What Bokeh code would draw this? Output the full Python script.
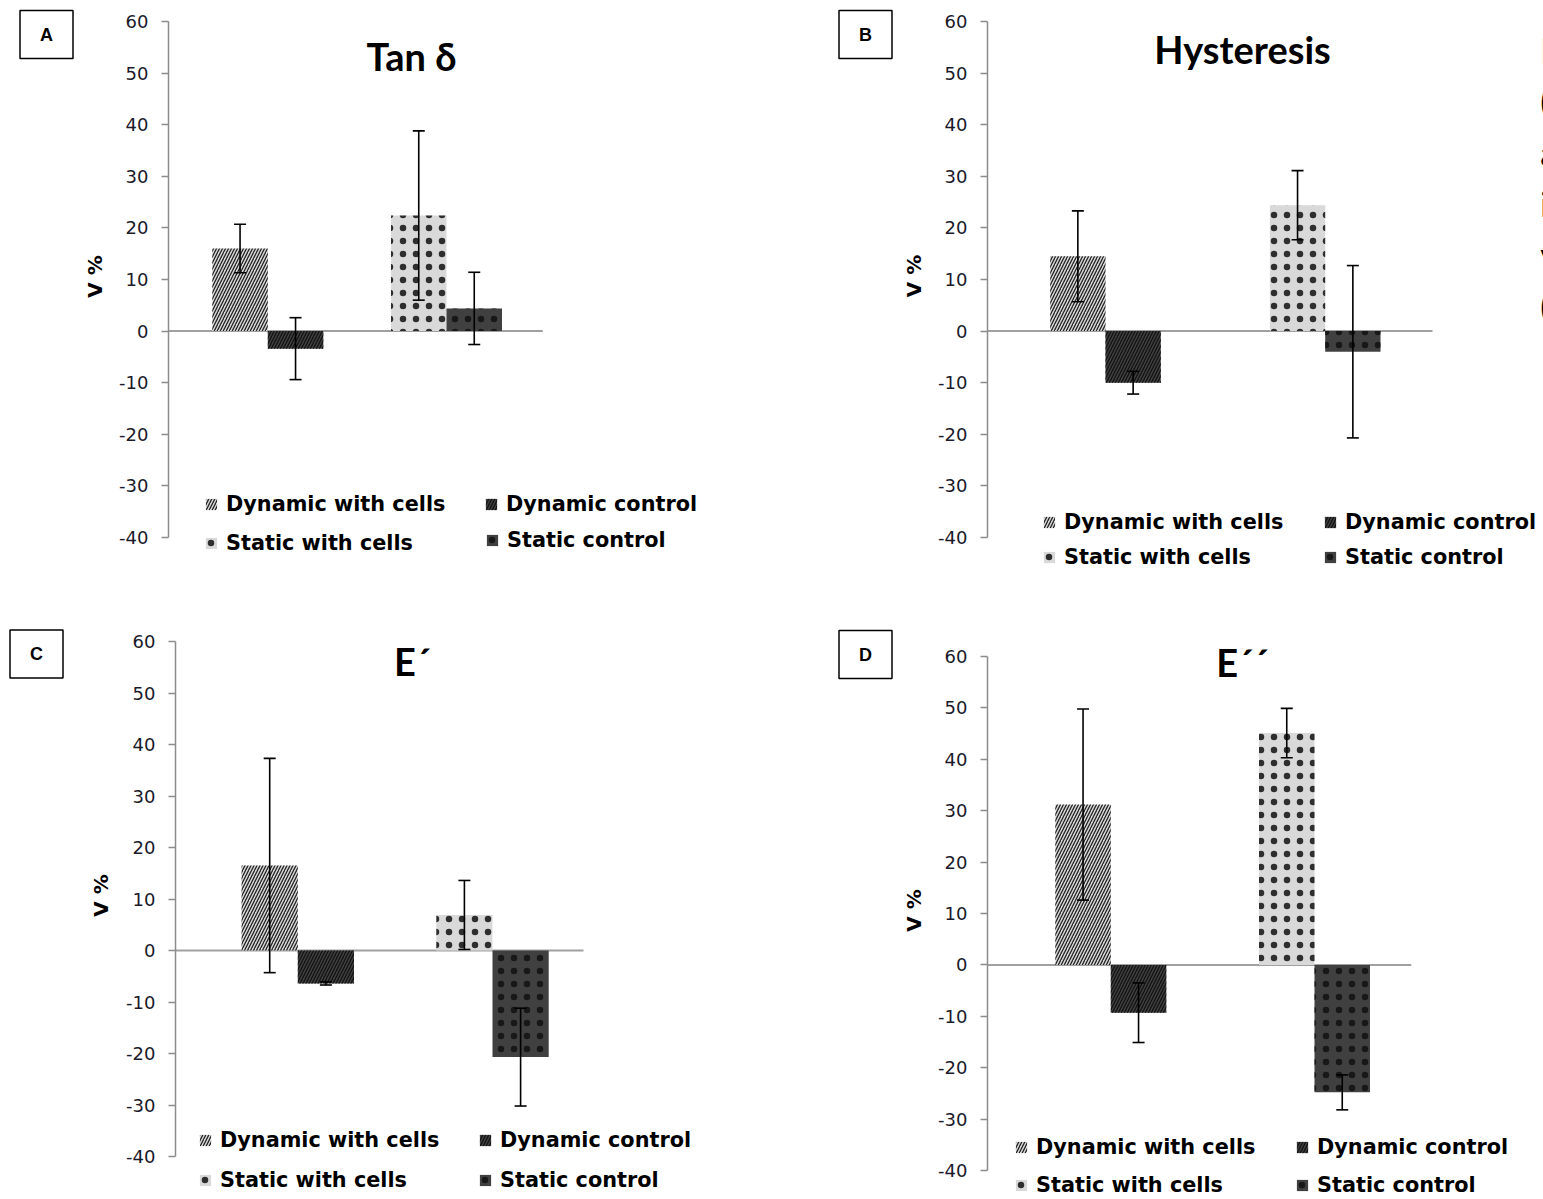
import math
from bokeh.plotting import figure
from bokeh.models import (Range1d, Whisker, TeeHead, ColumnDataSource, Label,
                          Legend, LegendItem, FixedTicker)
from bokeh.layouts import row, column
from bokeh.core.properties import value
from bokeh.embed import file_html
from bokeh.resources import INLINE

# ---------------- data ----------------
series = ["Dynamic with cells", "Dynamic control", "Static with cells", "Static control"]
series_group = [1, 1, 2, 2]          # 1 = dynamic pair, 2 = static pair
series_side = [-1, 1, -1, 1]         # left / right bar within the pair

tan_delta_mean = [16.0, -3.4, 22.4, 4.4]
tan_delta_err = [4.7, 6.0, 16.4, 7.0]

hysteresis_mean = [14.5, -10.0, 24.4, -4.0]
hysteresis_err = [8.8, 2.2, 6.7, 16.7]

e_storage_mean = [16.5, -6.4, 6.9, -20.7]
e_storage_err = [20.8, 0.3, 6.7, 9.5]

e_loss_mean = [31.2, -9.3, 45.1, -24.8]
e_loss_err = [18.6, 5.8, 4.8, 3.4]

y_ticks = [-40, -30, -20, -10, 0, 10, 20, 30, 40, 50, 60]
y_tick_labels = [str(t) for t in y_ticks]
y_label = "V %"
panel_titles = ["Tan δ", "Hysteresis", "E´", "E´´"]
panel_letters = ["A", "B", "C", "D"]

# ---------------- styles ----------------
LIGHT = "#d9d9d9"
DARK = "#404040"
styles = [
    dict(fill_color=LIGHT, hatch_pattern="right_diagonal_line", hatch_color="#222222",
         hatch_scale=6, hatch_weight=1.3),
    dict(fill_color=DARK, hatch_pattern="right_diagonal_line", hatch_color="#111111",
         hatch_scale=6, hatch_weight=1.3),
    dict(fill_color=LIGHT, hatch_pattern="dot", hatch_color="#111111",
         hatch_scale=13, hatch_weight=0.6, hatch_alpha=0.85),
    dict(fill_color=DARK, hatch_pattern="dot", hatch_color="#111111",
         hatch_scale=13, hatch_weight=0.6, hatch_alpha=0.85),
]

TICK_FONT = "DejaVu Sans"
LEG_FONT = "DejaVu Sans"
TITLE_FONT = "Lato"
LEG_SIZE = "20.8px"
LEG_HALF = 13  # offset from row centre to legend bottom


def margin_fig(letter, width, height, box_xy, label_xy):
    """Left margin of a panel: panel letter in a box and the y-axis title."""
    p = figure(width=width, height=height, x_range=Range1d(0, 1), y_range=Range1d(0, 1),
               output_backend="svg", toolbar_location=None,
               x_axis_location=None, y_axis_location=None,
               min_border_left=0, min_border_right=0, min_border_top=0, min_border_bottom=0)
    p.grid.visible = False
    p.outline_line_color = None
    p.add_layout(Label(x=box_xy[0], y=height - box_xy[1], x_units="screen", y_units="screen",
                       text=letter, text_font="Liberation Sans", text_font_style="bold",
                       text_font_size="18px", text_align="center", text_baseline="middle",
                       text_color="black", border_line_color="black", border_line_width=1.5,
                       background_fill_color="white",
                       padding=dict(left=20, right=20, top=14, bottom=14)))
    p.add_layout(Label(x=label_xy[0], y=height - label_xy[1], x_units="screen",
                       y_units="screen", text=y_label, angle=math.pi / 2,
                       text_font=LEG_FONT, text_font_style="bold", text_font_size="20px",
                       text_align="center", text_baseline="middle", text_color="black"))
    return p


def make_panel(title, means, errs, x0, y0, width, height, geo, title_xy, legend_xy,
               extra=None):
    # geo: page pixels of y-axis, end of zero line, two group centres, bar width,
    #      pixel rows of the 60 and -40 ticks
    axis_px, zero_end_px, c1_px, c2_px, barw_px, py_top, py_bot = geo
    left = axis_px - x0
    u = c2_px - c1_px
    xs0 = 1 - (c1_px - axis_px) / u
    xe = xs0 + (x0 + width - axis_px) / u
    zero_end = xs0 + (zero_end_px - axis_px) / u
    bar_w = barw_px / u
    ppu = (py_bot - py_top) / (y_ticks[-1] - y_ticks[0])
    ys = y_ticks[0] - (y0 + height - py_bot) / ppu
    ye = y_ticks[-1] + (py_top - y0) / ppu

    p = figure(width=width, height=height, x_range=Range1d(xs0, xe), y_range=Range1d(ys, ye),
               output_backend="svg", toolbar_location=None, x_axis_location=None,
               min_border_left=left, min_border_right=0,
               min_border_top=0, min_border_bottom=0)
    p.grid.visible = False
    p.outline_line_color = None

    ax = p.yaxis[0]
    ax.ticker = FixedTicker(ticks=y_ticks)
    ax.major_label_overrides = {t: s for t, s in zip(y_ticks, y_tick_labels)}
    ax.bounds = (y_ticks[0], y_ticks[-1])
    ax.axis_line_color = "#8c8c8c"
    ax.axis_line_width = 1.5
    ax.major_tick_line_color = "#8c8c8c"
    ax.major_tick_line_width = 1.5
    ax.major_tick_out = 7
    ax.major_tick_in = 0
    ax.minor_tick_line_color = None
    ax.major_label_text_font = TICK_FONT
    ax.major_label_text_font_size = "18px"
    ax.major_label_text_color = "#1a1a2a"
    ax.major_label_standoff = 13

    # category axis line at zero
    p.segment(x0=[xs0], y0=[0], x1=[zero_end], y1=[0], line_color="#a0a0a0", line_width=2)

    xs = [g + s * bar_w / 2 for g, s in zip(series_group, series_side)]
    renderers = []
    for i in range(4):
        src = ColumnDataSource(dict(x=[xs[i]], top=[means[i]]))
        r = p.vbar(x="x", top="top", bottom=0, width=bar_w, source=src,
                   line_color=None, **styles[i])
        renderers.append(r)

    wsrc = ColumnDataSource(dict(base=xs,
                                 upper=[m + e for m, e in zip(means, errs)],
                                 lower=[m - e for m, e in zip(means, errs)]))
    p.add_layout(Whisker(base="base", upper="upper", lower="lower", source=wsrc,
                         line_color="black", line_width=1.6, level="overlay",
                         upper_head=TeeHead(size=12, line_width=1.6, line_color="black"),
                         lower_head=TeeHead(size=12, line_width=1.6, line_color="black")))

    bottom_px = y0 + height
    p.add_layout(Label(x=title_xy[0] - axis_px, y=bottom_px - title_xy[1],
                       x_units="screen", y_units="screen",
                       text=title, text_font=TITLE_FONT, text_font_style="bold",
                       text_font_size="38px", text_align="center", text_baseline="middle",
                       text_color="black"))

    for i, (lx, ly) in enumerate(legend_xy):
        lg = Legend(items=[LegendItem(label=value(series[i]), renderers=[renderers[i]])],
                    location=(lx - axis_px, bottom_px - (ly + LEG_HALF)),
                    orientation="vertical", border_line_color=None,
                    background_fill_alpha=0, padding=0, margin=0, spacing=0,
                    glyph_width=14, glyph_height=14, label_standoff=8,
                    label_text_font=LEG_FONT, label_text_font_style="bold",
                    label_text_font_size=LEG_SIZE, label_text_color="black")
        p.add_layout(lg)

    if extra:
        for (txt, ex, ey) in extra:
            p.add_layout(Label(x=ex - axis_px, y=bottom_px - ey, x_units="screen",
                               y_units="screen", text=txt, text_font=TITLE_FONT,
                               text_font_style="bold", text_font_size="34px",
                               text_align="left", text_baseline="middle",
                               text_color="black"))
    return p


TOP_H, BOT_H = 600, 599

mA = margin_fig(panel_letters[0], 110, TOP_H, (46, 34), (94, 276))
pA = make_panel(panel_titles[0], tan_delta_mean, tan_delta_err, 110, 0, 661, TOP_H,
                (168, 542.3, 267.3, 446.0, 55.5, 21, 537), (411, 55.5),
                [(204, 503), (484, 503), (204, 542), (485, 539)])

mB = margin_fig(panel_letters[1], 158, TOP_H, (94, 34), (142, 275.5))
pB = make_panel(panel_titles[1], hysteresis_mean, hysteresis_err, 929, 0, 614, TOP_H,
                (987, 1432, 1105, 1324.7, 55.3, 21, 537), (1242, 48.5),
                [(1042, 521), (1323, 521), (1042, 556), (1323, 556)],
                extra=[("I", 1540, 50), ("(", 1540, 100), ("a", 1540, 152),
                       ("i", 1540, 203), ("v", 1540, 254), ("(", 1540, 305)])

mC = margin_fig(panel_letters[2], 117, BOT_H, (36, 53.5), (100, 295))
pC = make_panel(panel_titles[2], e_storage_mean, e_storage_err, 117, 600, 654, BOT_H,
                (175, 583, 297.3, 492, 56.2, 641, 1156), (412, 660),
                [(198, 1139), (478, 1139), (198, 1179), (478, 1179)])

mD = margin_fig(panel_letters[3], 158, BOT_H, (94, 54), (142, 310))
pD = make_panel(panel_titles[3], e_loss_mean, e_loss_err, 929, 600, 614, BOT_H,
                (987, 1410.7, 1110.3, 1314, 55.5, 656, 1170), (1242, 661),
                [(1014, 1146), (1295, 1146), (1014, 1184), (1295, 1184)])

layout = column(row(mA, pA, mB, pB), row(mC, pC, mD, pD))

open("out.html", "w").write(file_html(layout, INLINE))
